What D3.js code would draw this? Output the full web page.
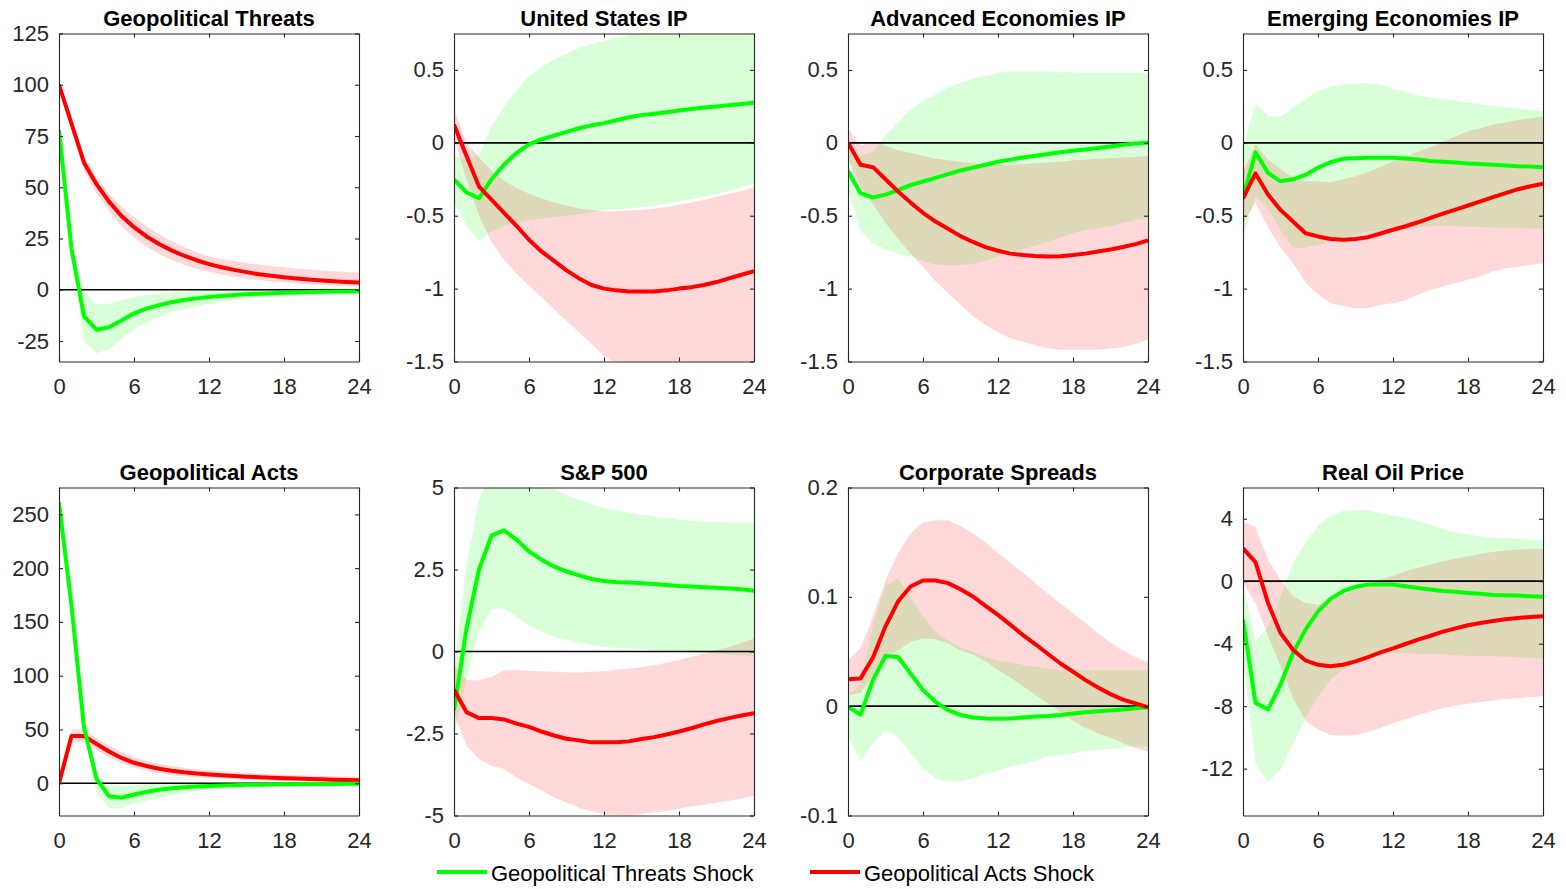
<!DOCTYPE html>
<html>
<head>
<meta charset="utf-8">
<script src="https://cdn.jsdelivr.net/npm/d3@7"></script>
<style>
	body { margin: 0; background: #fff; }
	text { font-family: "Liberation Sans", Arial, Helvetica, sans-serif; }
</style>
</head>
<body>
<svg id="chart" width="1566" height="889"></svg>
<script>
// horizon in months
const months = [0,1,2,3,4,5,6,7,8,9,10,11,12,13,14,15,16,17,18,19,20,21,22,23,24];
const xTicks = [0, 6, 12, 18, 24];

const titles = ["Geopolitical Threats", "United States IP", "Advanced Economies IP", "Emerging Economies IP",
	"Geopolitical Acts", "S&P 500", "Corporate Spreads", "Real Oil Price"];
const yDomains = [[-35, 125], [-1.5, 0.75], [-1.5, 0.75], [-1.5, 0.75], [-30, 275], [-5, 5], [-0.1, 0.2], [-15, 6]];
const yTicks = [
	[-25, 0, 25, 50, 75, 100, 125],
	[-1.5, -1, -0.5, 0, 0.5],
	[-1.5, -1, -0.5, 0, 0.5],
	[-1.5, -1, -0.5, 0, 0.5],
	[0, 50, 100, 150, 200, 250],
	[-5, -2.5, 0, 2.5, 5],
	[-0.1, 0, 0.1, 0.2],
	[-12, -8, -4, 0, 4]
];
const legendLabels = ["Geopolitical Threats Shock", "Geopolitical Acts Shock"];

// Geopolitical Threats
const gtThreats   = [78, 20, -13, -19.5, -18.3, -15, -11.5, -9.2, -7.5, -6.1, -5, -4.2, -3.5, -3, -2.6, -2.2, -1.9, -1.7, -1.5, -1.3, -1.1, -1, -0.9, -0.8, -0.7];
const gtThreatsLo = [78, 17, -25, -31, -29, -24, -19.5, -16, -13, -11, -9.5, -8, -6.8, -6, -5.2, -4.6, -4, -3.6, -3.2, -2.9, -2.6, -2.4, -2.2, -2.1, -2];
const gtThreatsHi = [78, 23, -1, -7, -7, -5, -3.5, -2.5, -1.8, -1.2, -0.8, -0.5, -0.3, -0.1, 0, 0.1, 0.2, 0.3, 0.3, 0.4, 0.4, 0.5, 0.5, 0.5, 0.5];
const gtActs      = [100, 81, 62, 51.5, 43, 36, 30.5, 26, 22.3, 19.2, 16.6, 14.4, 12.5, 11, 9.7, 8.6, 7.6, 6.8, 6.1, 5.5, 5, 4.5, 4.1, 3.8, 3.5];
const gtActsLo    = [100, 79, 58, 47, 38.5, 31, 25.5, 21, 17.5, 14.6, 12.2, 10.2, 8.6, 7.4, 6.3, 5.4, 4.7, 4, 3.5, 3, 2.6, 2.3, 2, 1.8, 1.6];
const gtActsHi    = [100, 83, 65, 55, 47, 40.5, 35.5, 31, 27, 23.7, 21, 18.3, 16.2, 15, 14, 13.1, 12.3, 11.6, 11, 10.4, 9.9, 9.4, 9, 8.6, 8.3];

// United States IP
const usThreats   = [-0.25, -0.34, -0.38, -0.25, -0.15, -0.07, -0.01, 0.023, 0.05, 0.075, 0.1, 0.12, 0.135, 0.155, 0.175, 0.19, 0.2, 0.21, 0.222, 0.232, 0.242, 0.25, 0.258, 0.266, 0.275];
const usThreatsLo = [-0.41, -0.57, -0.67, -0.61, -0.57, -0.55, -0.53, -0.52, -0.51, -0.5, -0.49, -0.48, -0.46, -0.455, -0.45, -0.44, -0.43, -0.42, -0.4, -0.385, -0.37, -0.35, -0.33, -0.305, -0.28];
const usThreatsHi = [-0.09, -0.12, -0.08, 0.11, 0.25, 0.36, 0.46, 0.52, 0.57, 0.61, 0.65, 0.68, 0.7, 0.72, 0.74, 0.76, 0.77, 0.78, 0.79, 0.8, 0.8, 0.81, 0.81, 0.82, 0.82];
const usActs      = [0.125, -0.09, -0.3, -0.39, -0.48, -0.57, -0.665, -0.745, -0.81, -0.875, -0.93, -0.975, -1, -1.012, -1.02, -1.02, -1.02, -1.012, -1, -0.99, -0.975, -0.955, -0.93, -0.905, -0.88];
const usActsLo    = [0.03, -0.25, -0.5, -0.68, -0.8, -0.9, -0.98, -1.06, -1.14, -1.22, -1.3, -1.38, -1.46, -1.52, -1.56, -1.6, -1.62, -1.63, -1.64, -1.64, -1.63, -1.62, -1.6, -1.58, -1.55];
const usActsHi    = [0.23, 0, -0.1, -0.19, -0.26, -0.31, -0.35, -0.38, -0.41, -0.43, -0.45, -0.46, -0.47, -0.47, -0.465, -0.46, -0.45, -0.44, -0.425, -0.41, -0.39, -0.37, -0.35, -0.33, -0.305];

// Advanced Economies IP
const aeThreats   = [-0.195, -0.345, -0.375, -0.355, -0.325, -0.29, -0.265, -0.24, -0.215, -0.19, -0.17, -0.15, -0.13, -0.115, -0.1, -0.088, -0.076, -0.065, -0.055, -0.045, -0.035, -0.025, -0.013, -0.005, 0];
const aeThreatsLo = [-0.33, -0.6, -0.69, -0.73, -0.76, -0.78, -0.81, -0.835, -0.84, -0.84, -0.83, -0.81, -0.78, -0.755, -0.73, -0.705, -0.68, -0.65, -0.62, -0.6, -0.585, -0.57, -0.55, -0.53, -0.515];
const aeThreatsHi = [-0.05, -0.09, -0.06, 0.05, 0.14, 0.23, 0.29, 0.33, 0.38, 0.41, 0.44, 0.46, 0.48, 0.49, 0.49, 0.49, 0.49, 0.485, 0.485, 0.48, 0.48, 0.48, 0.48, 0.48, 0.48];
const aeActs      = [0, -0.15, -0.167, -0.25, -0.333, -0.41, -0.48, -0.54, -0.59, -0.64, -0.68, -0.715, -0.74, -0.76, -0.77, -0.777, -0.78, -0.778, -0.77, -0.76, -0.745, -0.732, -0.715, -0.695, -0.67];
const aeActsLo    = [-0.1, -0.3, -0.42, -0.55, -0.66, -0.76, -0.85, -0.95, -1.03, -1.11, -1.19, -1.25, -1.3, -1.34, -1.365, -1.39, -1.41, -1.42, -1.42, -1.42, -1.42, -1.41, -1.4, -1.38, -1.35];
const aeActsHi    = [0.1, -0.02, 0.01, -0.02, -0.05, -0.07, -0.09, -0.11, -0.12, -0.13, -0.14, -0.145, -0.15, -0.15, -0.145, -0.14, -0.135, -0.13, -0.12, -0.115, -0.11, -0.105, -0.1, -0.095, -0.09];

// Emerging Economies IP
const eeThreats   = [-0.38, -0.065, -0.206, -0.264, -0.25, -0.22, -0.17, -0.133, -0.11, -0.105, -0.103, -0.103, -0.103, -0.108, -0.115, -0.125, -0.13, -0.135, -0.142, -0.145, -0.15, -0.155, -0.16, -0.163, -0.167];
const eeThreatsLo = [-0.65, -0.37, -0.45, -0.6, -0.72, -0.72, -0.7, -0.68, -0.65, -0.63, -0.61, -0.6, -0.59, -0.58, -0.575, -0.572, -0.572, -0.573, -0.575, -0.578, -0.58, -0.583, -0.586, -0.588, -0.59];
const eeThreatsHi = [-0.03, 0.27, 0.18, 0.18, 0.24, 0.3, 0.355, 0.385, 0.4, 0.405, 0.408, 0.4, 0.37, 0.35, 0.325, 0.31, 0.3, 0.29, 0.275, 0.265, 0.255, 0.245, 0.235, 0.225, 0.218];
const eeActs      = [-0.38, -0.21, -0.355, -0.46, -0.54, -0.62, -0.642, -0.66, -0.665, -0.66, -0.647, -0.622, -0.596, -0.572, -0.545, -0.515, -0.485, -0.458, -0.43, -0.402, -0.372, -0.345, -0.318, -0.298, -0.28];
const eeActsLo    = [-0.55, -0.41, -0.58, -0.72, -0.825, -0.96, -1.04, -1.1, -1.12, -1.135, -1.135, -1.11, -1.1, -1.08, -1.04, -1.01, -0.986, -0.963, -0.94, -0.917, -0.883, -0.86, -0.85, -0.838, -0.826];
const eeActsHi    = [-0.2, -0.01, -0.115, -0.18, -0.24, -0.264, -0.265, -0.27, -0.25, -0.23, -0.2, -0.165, -0.126, -0.095, -0.06, -0.03, 0.01, 0.045, 0.08, 0.1, 0.125, 0.14, 0.156, 0.168, 0.18];

// Geopolitical Acts
const gaThreats   = [261, 165, 52, 4, -12, -13.5, -10.5, -8, -6, -4.7, -3.7, -3, -2.5, -2.1, -1.8, -1.5, -1.3, -1.1, -1, -0.9, -0.8, -0.7, -0.6, -0.55, -0.5];
const gaThreatsLo = [261, 163, 46, -9, -23, -23, -19, -16, -13, -11, -9, -7.5, -6.3, -5.5, -4.8, -4.2, -3.7, -3.3, -3, -2.7, -2.5, -2.3, -2.2, -2.1, -2];
const gaThreatsHi = [261, 167, 58, 8, -1, -2.5, -1.5, -1, -0.5, -0.2, 0, 0.1, 0.2, 0.3, 0.3, 0.4, 0.4, 0.4, 0.4, 0.5, 0.5, 0.5, 0.5, 0.5, 0.5];
const gaActs      = [0, 44, 44, 36.5, 29.5, 23.5, 19, 16, 13.5, 11.6, 10.2, 9.1, 8.2, 7.4, 6.7, 6.1, 5.6, 5.1, 4.7, 4.3, 3.9, 3.6, 3.3, 3, 2.8];
const gaActsLo    = [0, 38, 38, 31, 24, 18.5, 14.5, 11.5, 9.3, 7.7, 6.5, 5.6, 4.9, 4.2, 3.7, 3.2, 2.8, 2.4, 2.1, 1.8, 1.5, 1.2, 1, 0.7, 0.5];
const gaActsHi    = [0, 50, 50, 42, 35, 29, 24.5, 21, 18, 16, 14.3, 13, 12, 11, 10.2, 9.5, 8.9, 8.3, 7.8, 7.4, 7, 6.7, 6.4, 6.2, 6];

// S&P 500
const spThreats   = [-1.8, 0.7, 2.5, 3.53, 3.69, 3.41, 3.05, 2.8, 2.59, 2.44, 2.32, 2.21, 2.15, 2.11, 2.1, 2.08, 2.06, 2.03, 2, 1.98, 1.96, 1.94, 1.92, 1.9, 1.85];
const spThreatsLo = [-2.6, -0.83, 0.6, 1.29, 1.32, 1.06, 0.79, 0.6, 0.45, 0.35, 0.27, 0.2, 0.14, 0.11, 0.09, 0.07, 0.05, 0.03, 0, -0.03, -0.05, -0.07, -0.1, -0.12, -0.14];
const spThreatsHi = [-0.6, 2.64, 4.63, 5.5, 5.6, 5.45, 5.25, 5.08, 4.94, 4.79, 4.63, 4.48, 4.37, 4.3, 4.24, 4.17, 4.12, 4.07, 4.02, 3.99, 3.97, 3.95, 3.93, 3.93, 3.93];
const spActs      = [-1.16, -1.85, -2.03, -2.03, -2.07, -2.2, -2.3, -2.44, -2.56, -2.66, -2.71, -2.77, -2.77, -2.77, -2.74, -2.67, -2.61, -2.53, -2.44, -2.34, -2.22, -2.12, -2.03, -1.95, -1.88];
const spActsLo    = [-1.9, -2.87, -3.28, -3.48, -3.58, -3.84, -4.04, -4.24, -4.45, -4.6, -4.76, -4.88, -4.96, -5.01, -5.01, -4.96, -4.9, -4.86, -4.79, -4.72, -4.67, -4.6, -4.55, -4.48, -4.4];
const spActsHi    = [-0.4, -0.88, -0.88, -0.78, -0.57, -0.57, -0.59, -0.6, -0.62, -0.63, -0.64, -0.62, -0.6, -0.56, -0.52, -0.47, -0.42, -0.34, -0.25, -0.16, -0.06, 0.04, 0.14, 0.27, 0.4];

// Corporate Spreads
const csThreats   = [-0.0006, -0.0077, 0.024, 0.046, 0.045, 0.03, 0.0147, 0.004, -0.0037, -0.008, -0.0104, -0.0113, -0.0116, -0.0113, -0.0104, -0.0095, -0.0089, -0.008, -0.0067, -0.0055, -0.0046, -0.004, -0.003, -0.002, -0.001];
const csThreatsLo = [-0.028, -0.05, -0.034, -0.023, -0.028, -0.043, -0.057, -0.066, -0.069, -0.069, -0.066, -0.062, -0.059, -0.055, -0.053, -0.05, -0.046, -0.045, -0.043, -0.041, -0.04, -0.039, -0.038, -0.037, -0.037];
const csThreatsHi = [0.009, 0.02, 0.075, 0.11, 0.117, 0.1, 0.082, 0.068, 0.06, 0.054, 0.05, 0.045, 0.042, 0.04, 0.0376, 0.036, 0.0345, 0.033, 0.033, 0.033, 0.033, 0.033, 0.033, 0.033, 0.033];
const csActs      = [0.0245, 0.0254, 0.0446, 0.073, 0.0957, 0.1095, 0.115, 0.115, 0.1125, 0.107, 0.1003, 0.0917, 0.0835, 0.0743, 0.065, 0.0566, 0.0477, 0.039, 0.0315, 0.0238, 0.017, 0.011, 0.006, 0.0025, -0.001];
const csActsLo    = [0.01, 0.012, 0.028, 0.045, 0.051, 0.059, 0.062, 0.061, 0.0575, 0.051, 0.047, 0.041, 0.033, 0.026, 0.018, 0.01, 0.0025, -0.005, -0.013, -0.02, -0.025, -0.029, -0.034, -0.038, -0.042];
const csActsHi    = [0.042, 0.053, 0.082, 0.115, 0.14, 0.158, 0.168, 0.17, 0.17, 0.165, 0.158, 0.15, 0.14, 0.131, 0.122, 0.1125, 0.103, 0.094, 0.085, 0.076, 0.0667, 0.058, 0.051, 0.045, 0.0407];

// Real Oil Price
const opThreats   = [-2.46, -7.8, -8.2, -6.63, -4.6, -3.1, -1.93, -1.13, -0.64, -0.36, -0.21, -0.19, -0.21, -0.32, -0.43, -0.53, -0.62, -0.68, -0.75, -0.81, -0.88, -0.9, -0.92, -0.96, -1];
const opThreatsLo = [-5, -11.66, -12.83, -12.09, -10.37, -8.77, -7.38, -6.31, -5.67, -5.24, -4.92, -4.7, -4.6, -4.6, -4.64, -4.67, -4.7, -4.74, -4.77, -4.79, -4.81, -4.84, -4.86, -4.9, -4.96];
const opThreatsHi = [-0.1, -3.85, -2.9, -0.96, 1.18, 2.46, 3.57, 4.17, 4.49, 4.56, 4.53, 4.39, 4.21, 4.06, 3.85, 3.6, 3.35, 3.15, 3, 2.89, 2.8, 2.76, 2.72, 2.67, 2.63];
const opActs      = [2.1, 1.22, -1.39, -3.32, -4.39, -5.07, -5.35, -5.45, -5.35, -5.13, -4.86, -4.56, -4.3, -4.02, -3.74, -3.49, -3.23, -3.02, -2.82, -2.67, -2.55, -2.44, -2.35, -2.29, -2.25];
const opActsLo    = [-0.1, -1.39, -3.5, -5.45, -7.5, -8.9, -9.5, -9.84, -9.9, -9.84, -9.63, -9.4, -9.1, -8.83, -8.56, -8.34, -8.13, -7.98, -7.85, -7.74, -7.64, -7.55, -7.49, -7.42, -7.38];
const opActsHi    = [3.79, 3.49, 1.39, 0.1, -0.96, -1.39, -1.5, -1.18, -0.86, -0.53, -0.21, 0.11, 0.36, 0.64, 0.86, 1.07, 1.28, 1.45, 1.6, 1.75, 1.88, 1.97, 2.03, 2.07, 2.07];

const threats   = [gtThreats, usThreats, aeThreats, eeThreats, gaThreats, spThreats, csThreats, opThreats];
const threatsLo = [gtThreatsLo, usThreatsLo, aeThreatsLo, eeThreatsLo, gaThreatsLo, spThreatsLo, csThreatsLo, opThreatsLo];
const threatsHi = [gtThreatsHi, usThreatsHi, aeThreatsHi, eeThreatsHi, gaThreatsHi, spThreatsHi, csThreatsHi, opThreatsHi];
const acts   = [gtActs, usActs, aeActs, eeActs, gaActs, spActs, csActs, opActs];
const actsLo = [gtActsLo, usActsLo, aeActsLo, eeActsLo, gaActsLo, spActsLo, csActsLo, opActsLo];
const actsHi = [gtActsHi, usActsHi, aeActsHi, eeActsHi, gaActsHi, spActsHi, csActsHi, opActsHi];

// layout
const colLeft = [59, 454, 848, 1243];
const rowTop = [33.5, 487.5];
const plotW = 300, plotH = 328;
const fontSize = 22;
const green = "#00ff00", red = "#ff0000", axisColor = "#262626";

const svg = d3.select("#chart");
svg.append("rect").attr("width", 1566).attr("height", 889).attr("fill", "#fff");

function styleAxis(sel){
	sel.select(".domain").attr("stroke", axisColor).attr("stroke-width", 1.1);
	sel.selectAll(".tick line").attr("stroke", axisColor).attr("stroke-width", 1.1);
	sel.selectAll(".tick text").attr("fill", axisColor).attr("font-size", fontSize)
		.attr("font-family", "'Liberation Sans', Arial, sans-serif");
}

titles.forEach(function(title, i){
	const left = colLeft[i % 4], top = rowTop[Math.floor(i / 4)];
	const g = svg.append("g").attr("transform", "translate(" + [left, top] + ")");

	const x = d3.scaleLinear().domain([0, 24]).range([0, plotW]);
	const y = d3.scaleLinear().domain(yDomains[i]).range([plotH, 0]);

	g.append("clipPath").attr("id", "clip" + i)
		.append("rect").attr("width", plotW).attr("height", plotH);
	const plot = g.append("g").attr("clip-path", "url(#clip" + i + ")");

	const band = function(lo, hi){
		return d3.area()
			.x(function(d, j){ return x(months[j]); })
			.y0(function(d, j){ return y(lo[j]); })
			.y1(function(d, j){ return y(hi[j]); })(months);
	};
	const line = d3.line()
		.x(function(d, j){ return x(months[j]); })
		.y(function(d){ return y(d); });

	//confidence bands
	plot.append("path").attr("d", band(threatsLo[i], threatsHi[i]))
		.attr("fill", green).attr("fill-opacity", 0.15);
	plot.append("path").attr("d", band(actsLo[i], actsHi[i]))
		.attr("fill", red).attr("fill-opacity", 0.15);

	//zero line
	plot.append("line").attr("x1", 0).attr("x2", plotW)
		.attr("y1", y(0)).attr("y2", y(0))
		.attr("stroke", "#000").attr("stroke-width", 1.7);

	//impulse responses
	const series = [[threats[i], green], [acts[i], red]];
	if (i === 4) series.reverse();
	series.forEach(function(s){
		plot.append("path").attr("d", line(s[0]))
			.attr("fill", "none").attr("stroke", s[1])
			.attr("stroke-width", 4).attr("stroke-linejoin", "round");
	});

	//axes, ticks inside on all four sides
	g.append("g").attr("transform", "translate(0," + plotH + ")")
		.call(d3.axisBottom(x).tickValues(xTicks).tickSizeInner(-4).tickSizeOuter(0).tickPadding(16.5))
		.call(styleAxis);
	g.append("g")
		.call(d3.axisTop(x).tickValues(xTicks).tickSizeInner(-4).tickSizeOuter(0).tickFormat(""))
		.call(styleAxis);
	g.append("g")
		.call(d3.axisLeft(y).tickValues(yTicks[i]).tickSizeInner(-4).tickSizeOuter(0).tickPadding(10)
			.tickFormat(function(d){ return String(d); }))
		.call(styleAxis);
	g.append("g").attr("transform", "translate(" + plotW + ",0)")
		.call(d3.axisRight(y).tickValues(yTicks[i]).tickSizeInner(-4).tickSizeOuter(0).tickFormat(""))
		.call(styleAxis);

	g.append("text").attr("x", plotW / 2).attr("y", -7.5)
		.attr("text-anchor", "middle").attr("font-size", fontSize).attr("font-weight", "bold")
		.attr("fill", "#000").text(title);
});

//legend
const legend = svg.append("g");
[[437, green], [810, red]].forEach(function(item, k){
	legend.append("line").attr("x1", item[0]).attr("x2", item[0] + 50)
		.attr("y1", 872).attr("y2", 872)
		.attr("stroke", item[1]).attr("stroke-width", 4);
	legend.append("text").attr("x", item[0] + 54).attr("y", 881)
		.attr("font-size", fontSize).attr("fill", "#000").text(legendLabels[k]);
});
</script>
</body>
</html>
